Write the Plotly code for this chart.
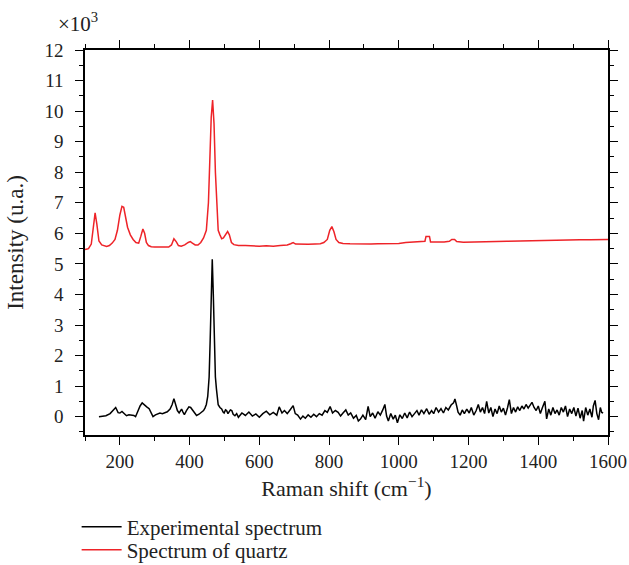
import plotly.graph_objects as go

# Spectrum of quartz (reference)
quartz_x = [100, 110, 118, 124, 129, 134, 140, 148, 156, 162, 170, 178, 186, 193, 200, 206, 211, 216, 222, 230,
            238, 246, 254, 260, 266, 271, 276, 282, 290, 300, 320, 340, 348, 355, 362, 368, 376, 386, 396, 402,
            408, 416, 424, 432, 440, 448, 454, 458, 462, 466, 470, 474, 478, 482, 487, 492, 497, 503, 509, 514,
            520, 527, 540, 560, 580, 600, 620, 640, 660, 680, 690, 697, 704, 720, 740, 760, 775, 785, 795, 802,
            808, 814, 820, 828, 840, 860, 880, 900, 920, 940, 960, 980, 1000, 1020, 1040, 1060, 1075, 1078, 1088, 1091,
            1110, 1130, 1145, 1152, 1160, 1166, 1185, 1200, 1220, 1250, 1280, 1310, 1340, 1370, 1400, 1430, 1460, 1490, 1520, 1550,
            1580, 1600]
quartz_y = [5.47, 5.5, 5.65, 6.2, 6.67, 6.3, 5.75, 5.62, 5.58, 5.57, 5.6, 5.68, 5.8, 6.1, 6.6, 6.88, 6.85, 6.55, 6.2, 5.95,
            5.8, 5.7, 5.68, 5.9, 6.14, 6.0, 5.7, 5.6, 5.56, 5.55, 5.54, 5.55, 5.62, 5.82, 5.72, 5.6, 5.58, 5.62, 5.7, 5.73,
            5.68, 5.62, 5.62, 5.7, 5.85, 6.1, 7.0, 8.4, 9.8, 10.36, 9.6, 8.0, 6.8, 6.1, 5.95, 5.82, 5.85, 5.98, 6.06, 5.95,
            5.7, 5.63, 5.6, 5.6, 5.58, 5.58, 5.59, 5.58, 5.6, 5.62, 5.66, 5.7, 5.65, 5.64, 5.64, 5.65, 5.66, 5.7, 5.8, 6.1,
            6.22, 6.05, 5.8, 5.7, 5.67, 5.66, 5.65, 5.65, 5.65, 5.66, 5.66, 5.66, 5.67, 5.7, 5.72, 5.72, 5.74, 5.9, 5.9, 5.72,
            5.71, 5.72, 5.74, 5.8, 5.8, 5.73, 5.71, 5.71, 5.73, 5.73, 5.73, 5.74, 5.75, 5.76, 5.77, 5.77, 5.78, 5.78, 5.79, 5.79,
            5.8, 5.8]

# Experimental spectrum
exp_x = [140, 150, 160, 172, 180, 188, 195, 200, 206, 212, 219, 226, 234, 240, 245, 252, 258, 264, 270, 277,
         284, 290, 295, 302, 309, 315, 322, 329, 336, 344, 350, 355, 360, 365, 370, 377, 381, 385, 391, 398,
         403, 408, 414, 420, 427, 434, 440, 444, 448, 452, 456, 459, 462, 465, 468, 471, 474, 477, 480, 482,
         487, 492, 496, 499, 503, 506, 510, 514, 517, 521, 525, 530, 535, 540, 550, 560, 570, 580, 590, 600,
         610, 620, 630, 640, 650, 657, 665, 672, 680, 688, 697, 703, 710, 718, 725, 732, 740, 748, 756, 764,
         772, 780, 788, 795, 803, 810, 818, 826, 833, 840, 848, 855, 862, 870, 878, 884, 890, 897, 905, 912,
         918, 925, 932, 940, 947, 954, 960, 965, 970, 977, 984, 990, 996, 1003, 1010, 1017, 1024, 1031, 1038, 1045,
         1052, 1058, 1065, 1072, 1080, 1087, 1094, 1100, 1107, 1114, 1121, 1128, 1135, 1142, 1150, 1157, 1161, 1166, 1170, 1176,
         1182, 1188, 1195, 1202, 1208, 1215, 1222, 1228, 1234, 1240, 1246, 1252, 1258, 1264, 1270, 1276, 1282, 1288, 1294, 1300,
         1306, 1312, 1317, 1323, 1329, 1335, 1341, 1347, 1353, 1359, 1365, 1371, 1377, 1382, 1388, 1394, 1400, 1406, 1412, 1419,
         1424, 1430, 1436, 1442, 1448, 1454, 1460, 1466, 1472, 1478, 1484, 1490, 1496, 1502, 1508, 1514, 1520, 1526, 1530, 1536,
         1542, 1548, 1554, 1558, 1563, 1568, 1573, 1578, 1582, 1586]
exp_y = [0.0, 0.01, 0.03, 0.1, 0.2, 0.3, 0.13, 0.12, 0.17, 0.1, 0.03, 0.06, 0.05, 0.04, 0.0, 0.2, 0.35, 0.45, 0.38, 0.32,
         0.26, 0.12, 0.0, 0.06, 0.1, 0.12, 0.1, 0.14, 0.16, 0.25, 0.4, 0.59, 0.35, 0.2, 0.12, 0.25, 0.15, 0.07, 0.2, 0.32,
         0.3, 0.23, 0.12, 0.04, 0.08, 0.14, 0.2, 0.28, 0.4, 0.66, 1.3, 2.5, 4.2, 5.15, 4.0, 2.3, 1.3, 0.9, 0.55, 0.39,
         0.3, 0.25, 0.15, 0.12, 0.22, 0.2, 0.1, 0.15, 0.22, 0.2, 0.08, 0.03, 0.1, -0.02, 0.12, 0.04, 0.15, 0.02, 0.09, -0.02,
         0.1, 0.18, 0.06, 0.14, 0.05, 0.32, 0.12, 0.2, 0.1, 0.22, 0.36, 0.1, 0.05, -0.08, 0.02, -0.05, 0.06, -0.02, 0.08, 0.0,
         0.1, 0.05, 0.2, 0.14, 0.33, 0.12, 0.2, 0.14, 0.02, 0.12, 0.22, 0.05, 0.12, -0.05, 0.04, -0.14, -0.08, 0.05, -0.1, 0.34,
         0.0, 0.12, -0.05, 0.16, 0.05, 0.22, 0.4, 0.02, -0.14, 0.1, -0.08, 0.05, -0.2, 0.06, -0.06, 0.12, -0.04, 0.15, 0.0, 0.1,
         0.2, 0.05, 0.22, 0.1, 0.26, 0.08, 0.2, 0.1, 0.3, 0.15, 0.26, 0.12, 0.3, 0.22, 0.38, 0.45, 0.58, 0.35, 0.15, 0.05,
         0.22, 0.1, 0.25, 0.12, 0.3, 0.05, 0.2, 0.4, 0.15, 0.3, 0.1, 0.5, 0.12, 0.3, 0.0, 0.25, 0.1, 0.35, 0.15, 0.28,
         0.05, 0.3, 0.56, 0.1, 0.3, 0.15, 0.32, 0.2, 0.35, 0.25, 0.4, 0.28, 0.38, 0.47, 0.3, 0.2, 0.35, 0.1, 0.3, 0.5,
         -0.07, 0.25, 0.05, 0.3, 0.1, 0.22, 0.05, 0.3, 0.15, 0.35, 0.0, 0.25, 0.1, 0.3, 0.02, 0.28, -0.05, 0.2, -0.15, 0.3,
         0.05, 0.25, -0.02, 0.35, 0.53, 0.1, -0.1, 0.3, 0.14, 0.12]

x_tickvals = [200, 400, 600, 800, 1000, 1200, 1400, 1600]
y_tickvals = list(range(0, 13))

FONT = "Liberation Serif"
TXT = "#222"

fig = go.Figure()
fig.add_trace(go.Scatter(x=exp_x, y=exp_y, mode="lines", name="Experimental spectrum",
                         line=dict(color="black", width=1.5), legend="legend"))
fig.add_trace(go.Scatter(x=quartz_x, y=quartz_y, mode="lines", name="Spectrum of quartz",
                         line=dict(color="#ee2328", width=1.5), legend="legend2"))

axis_common = dict(showline=True, linecolor="black", linewidth=1.5, mirror="ticks",
                   ticks="outside", ticklen=8, tickwidth=1.2, tickcolor="black",
                   showgrid=False, zeroline=False, automargin=False,
                   tickfont=dict(family=FONT, size=19, color=TXT))

fig.update_xaxes(range=[100, 1600], tickvals=x_tickvals,
                 minor=dict(ticks="outside", ticklen=4, tickcolor="black", dtick=100, tick0=0, showgrid=False),
                 title=dict(text="Raman shift (cm<sup>−1</sup>)", font=dict(family=FONT, size=22, color=TXT),
                            standoff=10),
                 **axis_common)
fig.update_yaxes(range=[-0.6, 12], tickvals=y_tickvals, ticklabelstandoff=8,
                 minor=dict(ticks="outside", ticklen=4, tickcolor="black", dtick=0.5, tick0=0, showgrid=False),
                 title=dict(text="Intensity (u.a.)", font=dict(family=FONT, size=23, color=TXT), standoff=14),
                 **axis_common)

fig.add_annotation(text="×10<sup>3</sup>", xref="paper", yref="paper", x=-0.055, y=1.0, yshift=12,
                   xanchor="left", yanchor="bottom", showarrow=False,
                   font=dict(family=FONT, size=21, color=TXT))

legend_common = dict(x=-0.016, xanchor="left", yanchor="middle", orientation="v", itemwidth=40,
                     font=dict(family=FONT, size=21, color=TXT), bgcolor="rgba(0,0,0,0)")

fig.update_layout(
    width=629, height=565,
    margin=dict(l=85, r=21, t=50, b=130, autoexpand=False),
    paper_bgcolor="white", plot_bgcolor="white",
    showlegend=True,
    legend=dict(y=-0.239, **legend_common),
    legend2=dict(y=-0.299, **legend_common),
)

fig.write_html("out.html", config={"displayModeBar": False},
               post_script="document.body.style.margin='0';")
